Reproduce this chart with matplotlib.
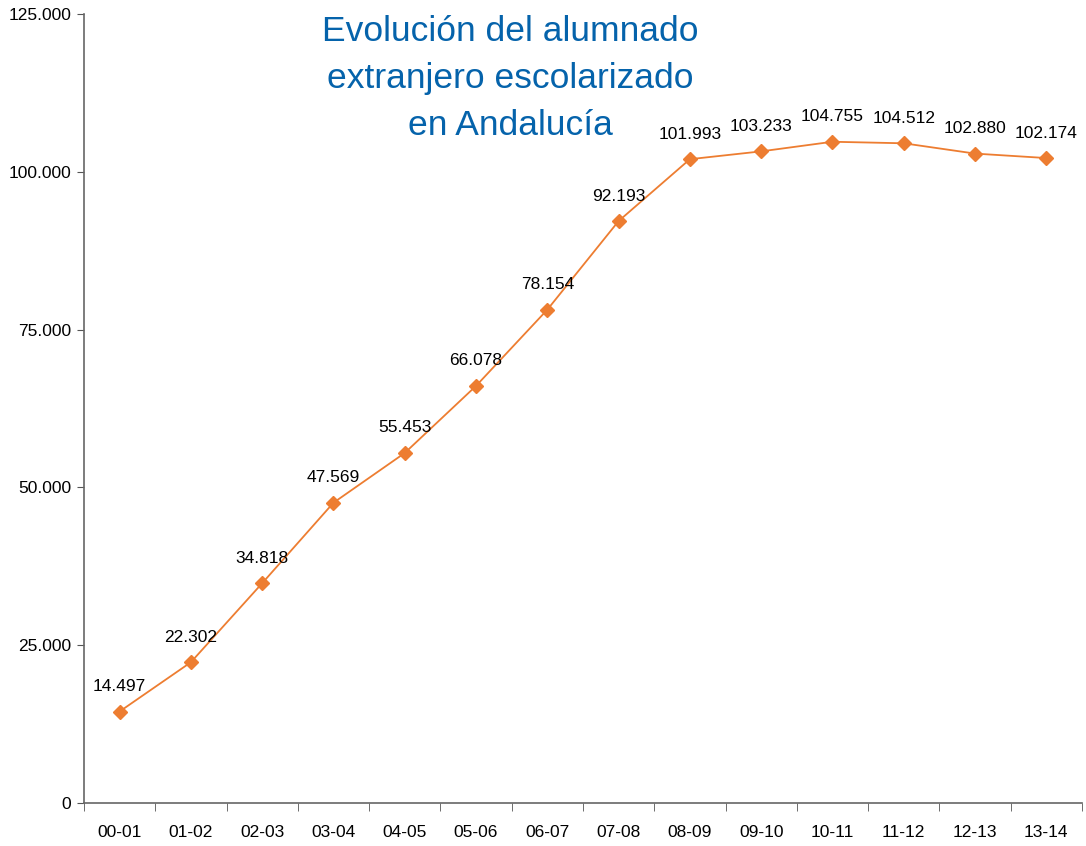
import matplotlib.pyplot as plt
import numpy as np

cursos = ["00-01", "01-02", "02-03", "03-04", "04-05", "05-06", "06-07",
          "07-08", "08-09", "09-10", "10-11", "11-12", "12-13", "13-14"]
alumnos = [14497, 22302, 34818, 47569, 55453, 66078, 78154,
           92193, 101993, 103233, 104755, 104512, 102880, 102174]
titulo = ["Evolución del alumnado", "extranjero escolarizado", "en Andalucía"]

def fmt(v):
    return "{:,}".format(int(v)).replace(",", ".")

plt.rcParams['font.family'] = ['Liberation Sans', 'DejaVu Sans']

fig = plt.figure(figsize=(10.86, 8.46), dpi=100)
ax = fig.add_axes([0.0773, 0.0508, 0.919, 0.9327])

x = np.arange(len(cursos))
ax.plot(x, alumnos, "-", color="#ED7D31", lw=1.3, marker="D", ms=7.5,
        markeredgecolor="#ED7D31", zorder=3)

for xi, v in zip(x, alumnos):
    ax.annotate(fmt(v), (xi, v), xytext=(0, 18), textcoords="offset points",
                ha="center", va="center", fontsize=12.5, color="black")

ax.set_xlim(-0.5, len(cursos) - 0.5)
ax.set_ylim(0, 125000)
yt = np.arange(0, 125001, 25000)
ax.set_yticks(yt)
ax.set_yticklabels([fmt(v) for v in yt], fontsize=12.5)

ax.set_xticks(x)
ax.set_xticklabels(cursos, fontsize=12.5)
ax.set_xticks(np.arange(-0.5, len(cursos)), minor=True)
ax.tick_params(axis="x", which="major", length=0, pad=16)
ax.tick_params(axis="x", which="minor", length=6, color="#555555", direction="out")
ax.tick_params(axis="y", length=5, color="#555555", pad=4)

for s in ["top", "right"]:
    ax.spines[s].set_visible(False)
for s in ["left", "bottom"]:
    ax.spines[s].set_color("#666666")
    ax.spines[s].set_linewidth(1.2)

# title, one line at a time
for i, linea in enumerate(titulo):
    fig.text(0.47, 0.963 - i * 0.0556, linea, ha="center", va="center",
             fontsize=25.5, color="#0563AB")

fig.savefig("out.png", dpi=100)
